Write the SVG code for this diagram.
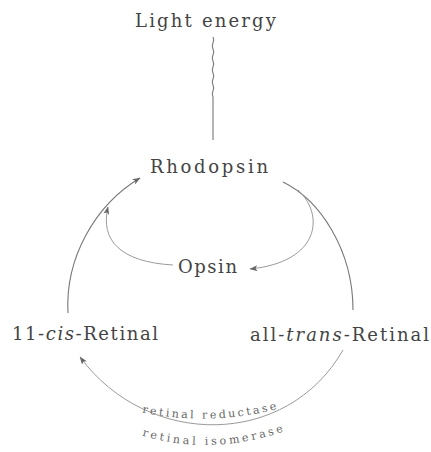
<svg xmlns="http://www.w3.org/2000/svg" width="431" height="452" viewBox="0 0 431 452">
<style>
  .lbl { font-family: "DejaVu Serif", "Liberation Serif", serif; font-size: 18px; fill: #444; }
  .enz { font-family: "DejaVu Serif", "Liberation Serif", serif; font-size: 11px; fill: #666; }
  .ln { fill: none; stroke: #777; stroke-width: 1.1; }
  .lt { fill: none; stroke: #9a9a9a; stroke-width: 1; }
</style>
<defs>
  <marker id="ah" viewBox="0 0 8 6" refX="7.5" refY="3" markerWidth="8" markerHeight="6" markerUnits="userSpaceOnUse" orient="auto">
    <path d="M0,0 L8,3 L0,6 L2,3 z" fill="#666"/>
  </marker>
  <path id="tp1" d="M140,412 Q 210,427 282,408"/>
  <path id="tp2" d="M140,435 Q 212,457 288,430"/>
</defs>
<rect width="431" height="452" fill="#fff"/>
<g id="connectors">
  <path class="ln" d="M213,37 q1.5,3 0,6 q-1.5,3 0,6 q1.5,3 0,6 q-1.5,3 0,6 q1.5,3 0,6 q-1.5,3 0,6 q1.5,3 0,6 q-1.5,3 0,6 q1.5,3 0,6 q-1.5,3 0,6 L213,140"/>
  <path class="ln" d="M68,313 C 65,258 95,205 140,178" marker-end="url(#ah)"/>
  <path class="ln" d="M283,182 C 320,200 353,250 353,310"/>
  <path class="lt" d="M298,190 C 325,215 320,262 250,269" marker-end="url(#ah)"/>
  <path class="lt" d="M173,265 C 120,262 100,240 108,207" marker-end="url(#ah)"/>
  <path class="lt" d="M343,350 C 287,448 148,449 80,357" marker-end="url(#ah)"/>
</g>
<g id="light-energy"><text class="lbl" x="135" y="27" textLength="141" lengthAdjust="spacing">Light energy</text></g>
<g id="rhodopsin"><text class="lbl" x="150" y="173" textLength="118" lengthAdjust="spacing">Rhodopsin</text></g>
<g id="opsin"><text class="lbl" x="178" y="273" textLength="59" lengthAdjust="spacing">Opsin</text></g>
<g id="cis-retinal"><text class="lbl" x="12" y="340" textLength="146" lengthAdjust="spacing">11-<tspan font-style="italic">cis</tspan>-Retinal</text></g>
<g id="trans-retinal"><text class="lbl" x="250" y="341" textLength="179" lengthAdjust="spacing">all-<tspan font-style="italic">trans</tspan>-Retinal</text></g>
<g id="enzymes">
  <text class="enz"><textPath href="#tp1" startOffset="2" textLength="136" lengthAdjust="spacing">retinal reductase</textPath></text>
  <text class="enz"><textPath href="#tp2" startOffset="2" textLength="144" lengthAdjust="spacing">retinal isomerase</textPath></text>
</g>
</svg>
